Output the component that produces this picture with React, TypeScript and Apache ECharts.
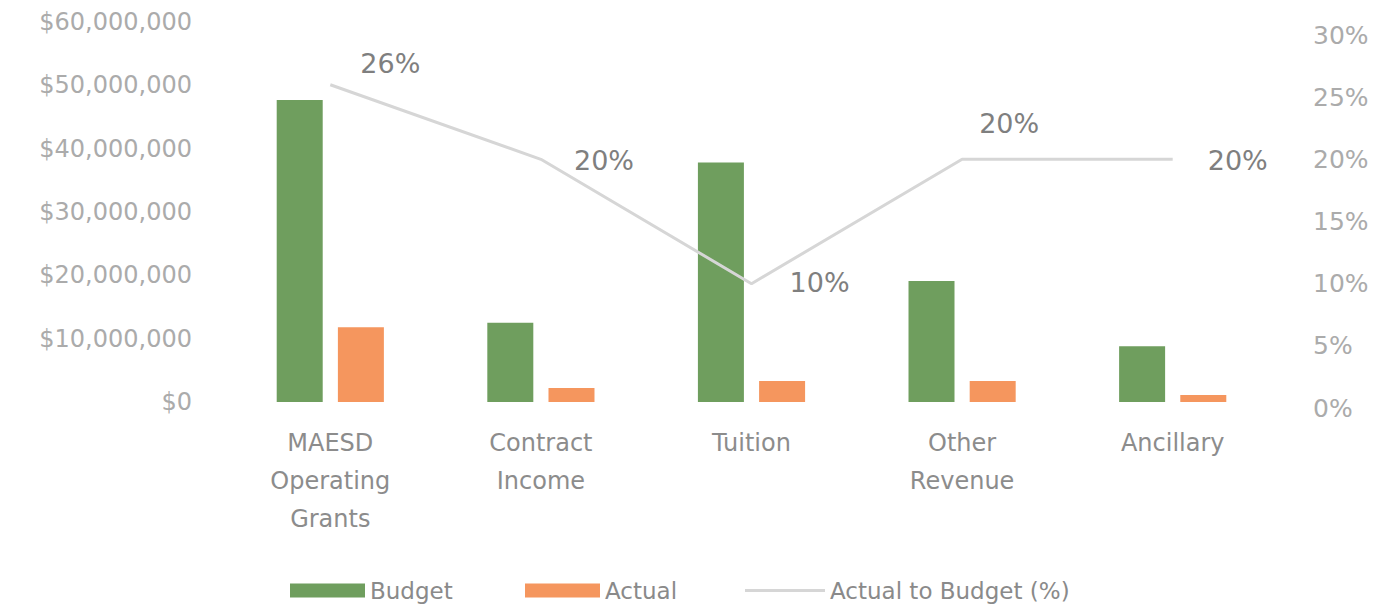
import React, { useEffect, useRef } from "react";
import * as echarts from "echarts";

const categories = ["MAESD\nOperating\nGrants", "Contract\nIncome", "Tuition", "Other\nRevenue", "Ancillary"];
const budget = [47700000, 12500000, 37800000, 19100000, 8800000];
const actual = [11800000, 2200000, 3300000, 3300000, 1100000];
const ratio = [26, 20, 10, 20, 20];
const ratioLabelOffsets: [number, number][] = [[25, -21], [28, 1], [33, -1], [12, -36], [30, 1]];

const FONT = "'DejaVu Sans', sans-serif";

export default function App() {
  const ref = useRef<HTMLDivElement>(null);
  useEffect(() => {
    document.body.style.margin = "0";
    const chart = echarts.init(ref.current!, null, { renderer: "svg" });
    const legendText = { color: "#8a8a8a", fontSize: 23, fontFamily: FONT };
    chart.setOption({
      animation: false,
      backgroundColor: "#ffffff",
      textStyle: { fontFamily: FONT },
      grid: [
        { left: 225, right: 101, top: 22, bottom: 203 },
        { left: 225, right: 101, top: 35, bottom: 197 },
      ],
      legend: [
        {
          left: 285,
          top: 574,
          itemWidth: 75,
          itemHeight: 14,
          textStyle: legendText,
          data: [{ name: "Budget", icon: "rect" }],
        },
        {
          left: 520,
          top: 574,
          itemWidth: 75,
          itemHeight: 14,
          textStyle: legendText,
          data: [{ name: "Actual", icon: "rect" }],
        },
        {
          left: 740,
          top: 574,
          itemWidth: 80,
          itemHeight: 14,
          textStyle: legendText,
          data: [{ name: "Actual to Budget (%)", icon: "path://M0,0L80,0L80,3L0,3Z" }],
        },
      ],
      xAxis: [
        {
          type: "category",
          gridIndex: 0,
          data: categories,
          axisLine: { show: false },
          axisTick: { show: false },
          axisLabel: {
            color: "#8c8c8c",
            fontSize: 24,
            lineHeight: 38,
            margin: 22,
            interval: 0,
          },
        },
        {
          type: "category",
          gridIndex: 1,
          data: categories,
          show: false,
        },
      ],
      yAxis: [
        {
          type: "value",
          gridIndex: 0,
          min: 0,
          max: 60000000,
          interval: 10000000,
          splitLine: { show: false },
          axisLine: { show: false },
          axisTick: { show: false },
          axisLabel: {
            color: "#ababab",
            fontSize: 24,
            margin: 33,
            formatter: (v: number) => "$" + v.toLocaleString("en-US"),
          },
        },
        {
          type: "value",
          gridIndex: 1,
          position: "right",
          min: 0,
          max: 30,
          interval: 5,
          splitLine: { show: false },
          axisLine: { show: false },
          axisTick: { show: false },
          axisLabel: {
            color: "#ababab",
            fontSize: 25,
            margin: 35,
            formatter: (v: number) => v + "%",
          },
        },
      ],
      series: [
        {
          name: "Budget",
          type: "bar",
          xAxisIndex: 0,
          yAxisIndex: 0,
          data: budget,
          barWidth: 46,
          barGap: "33%",
          itemStyle: { color: "#6f9e5e" },
        },
        {
          name: "Actual",
          type: "bar",
          xAxisIndex: 0,
          yAxisIndex: 0,
          data: actual,
          barWidth: 46,
          barGap: "33%",
          itemStyle: { color: "#f5965e" },
        },
        {
          name: "Actual to Budget (%)",
          type: "line",
          xAxisIndex: 1,
          yAxisIndex: 1,
          symbol: "circle",
          symbolSize: 0.1,
          showSymbol: true,
          lineStyle: { color: "#d6d6d6", width: 3 },
          itemStyle: { color: "#d6d6d6" },
          data: ratio.map((v, i) => ({
            value: v,
            label: {
              show: true,
              position: "right",
              offset: ratioLabelOffsets[i],
              formatter: (p: any) => p.value + "%",
              color: "#7f7f7f",
              fontSize: 27,
            },
          })),
        },
      ],
    });
    return () => chart.dispose();
  }, []);
  return <div ref={ref} style={{ width: 1379, height: 605 }} />;
}
